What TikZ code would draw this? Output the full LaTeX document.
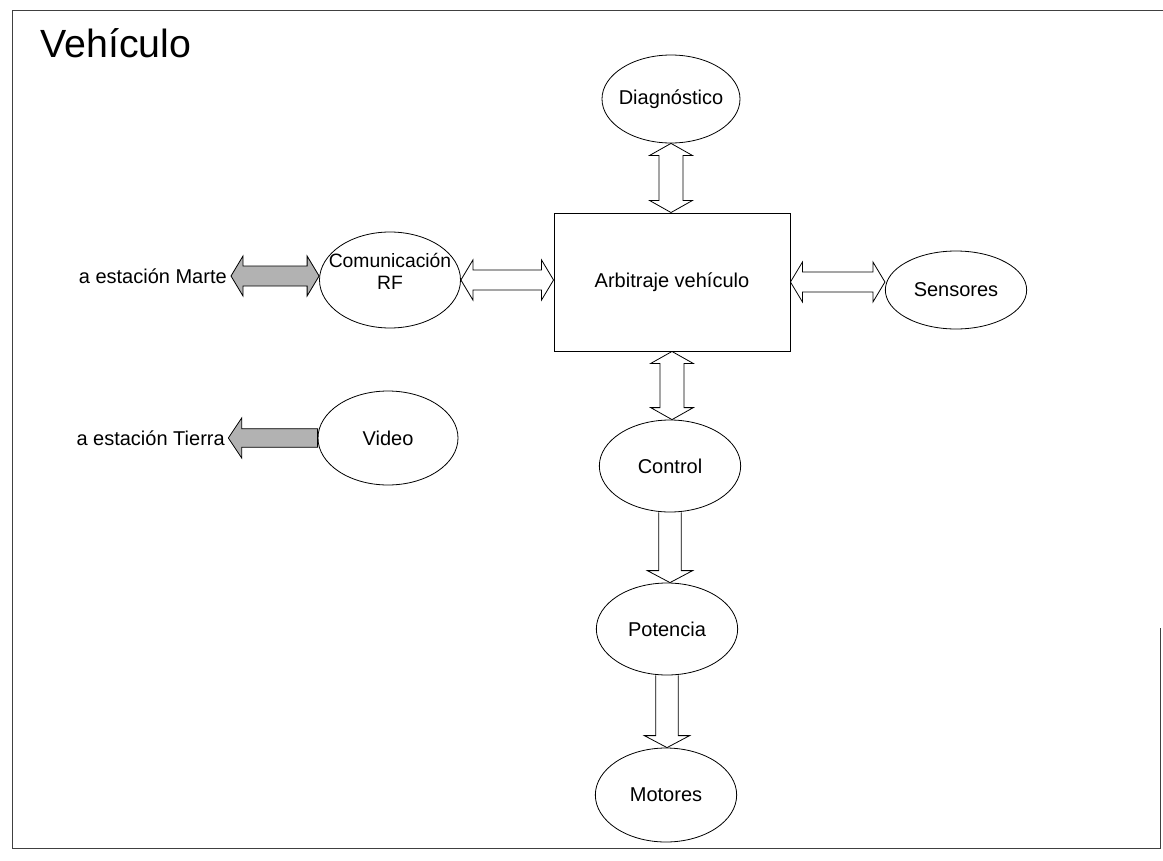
\documentclass[tikz,border=0pt]{standalone}
\usepackage{fontspec}
\setmainfont{Liberation Sans}
\usetikzlibrary{shapes.geometric,calc}

% block arrows: #1 extra style, #2 start, #3 end
\newcommand{\vdarrow}[3][]{%
  \draw[ba,#1] let \p1=(#2), \p2=(#3) in
    (\x1,\y1) -- (\x1+16pt,\y1-9pt) -- (\x1+9pt,\y1-9pt) -- (\x1+9pt,\y2+9pt)
    -- (\x1+16pt,\y2+9pt) -- (\x1,\y2) -- (\x1-16pt,\y2+9pt) -- (\x1-9pt,\y2+9pt)
    -- (\x1-9pt,\y1-9pt) -- (\x1-16pt,\y1-9pt) -- cycle;}
\newcommand{\hdarrow}[3][]{%
  \draw[ba,#1] let \p1=(#2), \p2=(#3) in
    (\x1,\y1) -- (\x1+9pt,\y1+15pt) -- (\x1+9pt,\y1+7.5pt) -- (\x2-9pt,\y1+7.5pt)
    -- (\x2-9pt,\y1+15pt) -- (\x2,\y1) -- (\x2-9pt,\y1-15pt) -- (\x2-9pt,\y1-7.5pt)
    -- (\x1+9pt,\y1-7.5pt) -- (\x1+9pt,\y1-15pt) -- cycle;}
\newcommand{\vsarrow}[3][]{%
  \draw[ba,#1] let \p1=(#2), \p2=(#3) in
    (\x1-8.5pt,\y1) -- (\x1-8.5pt,\y2+9pt) -- (\x1-17pt,\y2+9pt) -- (\x1,\y2)
    -- (\x1+17pt,\y2+9pt) -- (\x1+8.5pt,\y2+9pt) -- (\x1+8.5pt,\y1);}
\newcommand{\hlarrow}[3][]{%
  \draw[ba,#1] let \p1=(#2), \p2=(#3) in
    (\x1,\y1+7pt) -- (\x2+10pt,\y1+7pt) -- (\x2+10pt,\y1+15pt) -- (\x2,\y1)
    -- (\x2+10pt,\y1-15pt) -- (\x2+10pt,\y1-7pt) -- (\x1,\y1-7pt) -- cycle;}

\begin{document}
\begin{tikzpicture}[x=0.75pt,y=-0.75pt]
  \tikzset{ov/.style={draw,ellipse,inner sep=-14pt,line width=0.6pt,minimum width=106pt,minimum height=69pt,font=\fontsize{15}{17}\selectfont,align=center},
    bx/.style={draw,rectangle,line width=0.7pt,minimum width=177pt,minimum height=103.5pt,font=\fontsize{15}{17}\selectfont},
    lb/.style={inner sep=0pt,font=\fontsize{15}{17}\selectfont},
    ba/.style={line width=0.6pt,line join=miter},
    gr/.style={fill=black!30}}
  \useasboundingbox (0,0) rectangle (1163,860);
  % frame of the slide
  \draw[line width=0.6pt,black!75] (1163,10) -- (12,10) -- (12,848) -- (1160,848) -- (1160,628);
  \node[anchor=base west,inner sep=0pt,font=\fontsize{29.5}{34}\selectfont] (ttl) at (40,57) {Vehículo};

  \node[bx] (arb) at (672,282) {Arbitraje vehículo};
  \node[ov,minimum width=103.5pt,minimum height=66pt] (diag) at (671,99) {Diagnóstico};
  \node[ov,minimum width=105.75pt,minimum height=72pt,font=\fontsize{14.5}{16.5}\selectfont] (com) at (390,280) {Comunicación\\RF\\[-4pt]};
  \node[ov,minimum width=105pt,minimum height=70.5pt] (vid) at (388,438) {Video};
  \node[ov,minimum height=58.5pt] (sens) at (956,290) {Sensores};
  \node[ov] (ctrl) at (670,466) {Control};
  \node[ov] (pot) at (667,629) {Potencia};
  \node[ov,minimum height=70.5pt] (mot) at (666,795) {Motores};
  \node[lb,anchor=east] (marte) at (227,276) {a estación Marte};
  \node[lb,anchor=east] (tierra) at (225,438) {a estación Tierra};

  \vdarrow{diag.south}{diag.south |- arb.north}
  \vdarrow{arb.south}{arb.south |- ctrl.north}
  \hdarrow{com.east}{com.east -| arb.west}
  \hdarrow{arb.east}{arb.east -| sens.west}
  \hdarrow[gr]{[xshift=3pt]marte.east}{marte.east -| com.west}
  \hlarrow[gr]{vid.west}{[xshift=2.5pt]tierra.east}
  \vsarrow{ctrl.south}{ctrl.south |- pot.north}
  \vsarrow{pot.south}{pot.south |- mot.north}
\end{tikzpicture}
\end{document}
